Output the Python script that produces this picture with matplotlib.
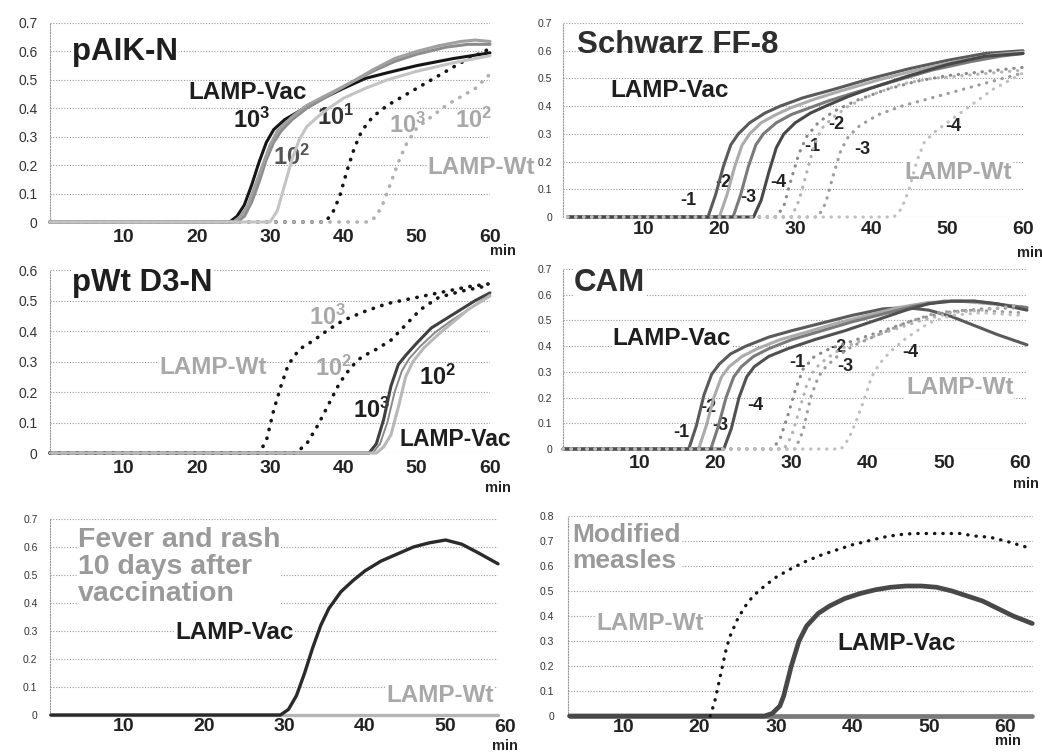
import matplotlib
matplotlib.use('Agg')
import numpy as np
import matplotlib.pyplot as plt

plt.rcParams['font.family'] = ['Liberation Sans', 'DejaVu Sans']
plt.rcParams['mathtext.fontset'] = 'custom'
plt.rcParams['mathtext.rm'] = 'Liberation Sans'
plt.rcParams['mathtext.bf'] = 'Liberation Sans:bold'

# -------------------------
# DATA (minutes vs. turbidity)
# -------------------------
# pAIK-N
aik_vac3_t = [0, 24.5, 25.5, 26.5, 27.5, 28.5, 29.5, 30.5, 32, 34, 36, 38, 40, 43, 46, 50, 55, 60]
aik_vac3_y = [0, 0, 0.02, 0.06, 0.13, 0.21, 0.28, 0.325, 0.36, 0.39, 0.42, 0.445, 0.47, 0.505, 0.525, 0.55, 0.575, 0.595]
aik_vacA_t = [0, 25, 26, 27, 28, 29, 30, 31, 33, 35, 38, 41, 44, 47, 50, 53, 56, 58, 60]
aik_vacA_y = [0, 0, 0.02, 0.06, 0.13, 0.2, 0.27, 0.32, 0.37, 0.41, 0.45, 0.49, 0.535, 0.575, 0.6, 0.62, 0.635, 0.64, 0.635]
aik_vac2_t = [0, 25.5, 26.5, 27.5, 28.5, 29.5, 30.5, 31.5, 33, 35, 38, 41, 44, 47, 50, 54, 57, 60]
aik_vac2_y = [0, 0, 0.02, 0.07, 0.14, 0.22, 0.28, 0.32, 0.36, 0.4, 0.445, 0.49, 0.53, 0.565, 0.59, 0.615, 0.625, 0.625]
aik_vac1_t = [0, 30, 31, 32, 33, 34, 35, 36.5, 38, 40, 43, 46, 50, 55, 60]
aik_vac1_y = [0, 0, 0.04, 0.13, 0.22, 0.29, 0.335, 0.37, 0.4, 0.435, 0.47, 0.5, 0.53, 0.56, 0.585]
aik_wt3_t = [0, 37.5, 38.5, 39.5, 40.5, 41.5, 42.5, 44, 46, 48, 50, 52, 54, 56, 58, 60]
aik_wt3_y = [0, 0, 0.03, 0.09, 0.18, 0.26, 0.32, 0.37, 0.41, 0.44, 0.47, 0.5, 0.53, 0.56, 0.585, 0.61]
aik_wt2_t = [0, 43.5, 44.5, 45.5, 46.5, 47.5, 48.5, 50, 52, 54, 56, 58, 60]
aik_wt2_y = [0, 0, 0.02, 0.07, 0.14, 0.21, 0.27, 0.33, 0.37, 0.41, 0.44, 0.47, 0.52]

# Schwarz FF-8 (dilutions -1 .. -4)
sch_vac_t = [
    [0, 18.5, 19.5, 20.5, 21.5, 22.5, 24, 26, 28, 31, 35, 40, 45, 50, 55, 60],
    [0, 20, 21, 22, 23, 24, 25.5, 27.5, 29.5, 32.5, 36, 41, 46, 51, 56, 60],
    [0, 21.8, 22.8, 23.8, 24.8, 25.8, 27.5, 29.5, 31.5, 34.5, 38, 43, 48, 53, 57, 60],
    [0, 24.5, 25.5, 26.5, 27.5, 28.5, 30, 32, 34, 37, 40, 45, 50, 55, 60],
]
sch_vac_y = [
    [0, 0, 0.08, 0.18, 0.26, 0.3, 0.34, 0.375, 0.4, 0.43, 0.46, 0.5, 0.535, 0.565, 0.59, 0.6],
    [0, 0, 0.08, 0.18, 0.26, 0.3, 0.34, 0.37, 0.395, 0.425, 0.455, 0.495, 0.53, 0.56, 0.585, 0.595],
    [0, 0, 0.08, 0.18, 0.26, 0.3, 0.34, 0.37, 0.39, 0.42, 0.45, 0.49, 0.53, 0.56, 0.58, 0.59],
    [0, 0, 0.06, 0.16, 0.25, 0.3, 0.34, 0.375, 0.4, 0.435, 0.465, 0.51, 0.55, 0.58, 0.59],
]
sch_wt_t = [
    [0, 27.5, 28.5, 29.5, 30.5, 31.5, 33, 35, 38, 42, 46, 50, 55, 60],
    [0, 29.5, 30.5, 31.5, 32.5, 33.5, 35, 37, 40, 44, 48, 52, 56, 60],
    [0, 33, 34, 35, 36, 37, 38.5, 41, 44, 48, 52, 56, 60],
    [0, 43, 44, 45, 46, 47, 48.5, 50, 52, 54, 56, 58, 60],
]
sch_wt_y = [
    [0, 0, 0.04, 0.14, 0.23, 0.29, 0.34, 0.38, 0.42, 0.46, 0.49, 0.51, 0.525, 0.54],
    [0, 0, 0.06, 0.16, 0.26, 0.32, 0.36, 0.4, 0.44, 0.48, 0.5, 0.51, 0.52, 0.53],
    [0, 0, 0.05, 0.15, 0.24, 0.29, 0.33, 0.37, 0.4, 0.43, 0.46, 0.49, 0.52],
    [0, 0, 0.03, 0.1, 0.2, 0.27, 0.31, 0.34, 0.38, 0.42, 0.46, 0.49, 0.52],
]

# pWt D3-N
dwt_wt3_t = [0, 28.5, 29.5, 30.5, 31.5, 32.5, 34, 36, 38, 40, 43, 46, 50, 54, 57, 60]
dwt_wt3_y = [0, 0, 0.04, 0.14, 0.22, 0.29, 0.34, 0.37, 0.405, 0.435, 0.465, 0.49, 0.51, 0.53, 0.545, 0.555]
dwt_wt2_t = [0, 33.5, 35, 36.5, 38, 39.5, 41, 42.5, 44.5, 46.5, 48.5, 50.5, 53, 56, 60]
dwt_wt2_y = [0, 0, 0.03, 0.09, 0.16, 0.23, 0.28, 0.315, 0.34, 0.37, 0.42, 0.47, 0.51, 0.53, 0.55]
dwt_vac3_t = [0, 43.5, 44.5, 45.5, 46.5, 47.5, 48.5, 50, 52, 54, 56, 58, 60]
dwt_vac3_y = [0, 0, 0.03, 0.11, 0.22, 0.29, 0.32, 0.36, 0.41, 0.44, 0.47, 0.5, 0.525]
dwt_vacB_t = [0, 44, 45, 46, 47, 48, 49, 50.5, 52.5, 54.5, 57, 60]
dwt_vacB_y = [0, 0, 0.03, 0.1, 0.2, 0.27, 0.31, 0.35, 0.395, 0.43, 0.47, 0.52]
dwt_vac2_t = [0, 44.5, 45.5, 46.5, 47.5, 48.5, 49.5, 51, 53, 55, 57, 60]
dwt_vac2_y = [0, 0, 0.02, 0.06, 0.15, 0.25, 0.3, 0.345, 0.39, 0.43, 0.47, 0.515]

# CAM (dilutions -1 .. -4)
cam_vac_t = [
    [0, 16.5, 17.5, 18.5, 19.5, 20.5, 22, 24, 27, 30, 34, 38, 42, 45, 48, 51, 54, 57, 60.9],
    [0, 17.8, 18.8, 19.8, 20.8, 21.8, 23.5, 25.5, 28.5, 32, 36, 40, 44, 48, 52, 56, 60.9],
    [0, 19.4, 20.4, 21.4, 22.4, 23.4, 25, 27, 30, 34, 38, 42, 46, 50, 54, 58, 60.9],
    [0, 21.1, 22.1, 23.1, 24.1, 25.1, 27, 29.5, 33, 37, 41, 45, 48, 51, 54, 57, 60.9],
]
cam_vac_y = [
    [0, 0, 0.09, 0.21, 0.29, 0.33, 0.37, 0.4, 0.435, 0.46, 0.49, 0.52, 0.545, 0.55, 0.54, 0.515, 0.48, 0.445, 0.405],
    [0, 0, 0.09, 0.2, 0.28, 0.32, 0.36, 0.39, 0.425, 0.455, 0.49, 0.52, 0.55, 0.57, 0.575, 0.565, 0.55],
    [0, 0, 0.09, 0.2, 0.28, 0.32, 0.36, 0.39, 0.425, 0.46, 0.495, 0.525, 0.555, 0.575, 0.575, 0.56, 0.55],
    [0, 0, 0.08, 0.2, 0.28, 0.32, 0.36, 0.39, 0.425, 0.46, 0.5, 0.54, 0.565, 0.575, 0.575, 0.565, 0.54],
]
cam_wt_t = [
    [0, 27.5, 28.5, 29.5, 30.5, 31.5, 33, 35, 38, 42, 46, 50, 55, 60],
    [0, 29, 30, 31, 32, 33, 34.5, 36.5, 39, 43, 47, 51, 55, 60],
    [0, 30.5, 31.5, 32.5, 33.5, 34.5, 36, 38, 41, 45, 49, 53, 57, 60],
    [0, 36.5, 37.5, 38.5, 39.5, 40.5, 41.5, 43, 45, 48, 51, 55, 60],
]
cam_wt_y = [
    [0, 0, 0.04, 0.13, 0.23, 0.31, 0.36, 0.39, 0.42, 0.46, 0.5, 0.53, 0.545, 0.55],
    [0, 0, 0.05, 0.15, 0.25, 0.31, 0.35, 0.39, 0.42, 0.46, 0.5, 0.53, 0.54, 0.56],
    [0, 0, 0.07, 0.2, 0.28, 0.32, 0.36, 0.4, 0.44, 0.49, 0.53, 0.54, 0.535, 0.53],
    [0, 0, 0.04, 0.11, 0.19, 0.28, 0.33, 0.38, 0.43, 0.49, 0.52, 0.53, 0.52],
]
dil_labels = ['-1', '-2', '-3', '-4']

# Fever and rash 10 days after vaccination
fev_vac_t = [1, 29.5, 30.5, 31.5, 32.5, 33.5, 34.5, 35.5, 37, 38.5, 40, 42, 44, 46, 48, 50, 52, 54, 56.5]
fev_vac_y = [0, 0, 0.02, 0.07, 0.15, 0.24, 0.32, 0.38, 0.44, 0.48, 0.515, 0.55, 0.575, 0.6, 0.615, 0.625, 0.61, 0.58, 0.54]
fev_wt_t = [1, 56.5]
fev_wt_y = [0, 0]

# Modified measles
mod_wt_t = [21.4, 22, 22.5, 23, 23.5, 24, 25, 26, 27, 28.5, 30, 32, 34, 36, 38, 40, 42, 44, 46, 48, 50,
            52, 54, 56, 58, 60, 62.8]
mod_wt_y = [0, 0.06, 0.13, 0.2, 0.27, 0.32, 0.39, 0.44, 0.48, 0.52, 0.555, 0.59, 0.62, 0.645, 0.665, 0.685,
            0.7, 0.715, 0.725, 0.73, 0.73, 0.73, 0.73, 0.72, 0.715, 0.7, 0.675]
mod_wt_base_t = [3, 63.5]
mod_wt_base_y = [0, 0]
mod_vac_t = [3, 28.5, 29.5, 30.5, 31, 31.5, 32, 33, 34, 35.5, 37, 39, 41, 43, 45, 47, 49, 51, 53, 55, 57,
             59, 61, 63.5]
mod_vac_y = [0, 0, 0.01, 0.04, 0.08, 0.14, 0.2, 0.3, 0.36, 0.41, 0.44, 0.47, 0.49, 0.505, 0.515, 0.52,
             0.52, 0.515, 0.5, 0.48, 0.46, 0.43, 0.4, 0.37]

# -------------------------
# FIGURE
# -------------------------
W, H = 1042, 754
fig = plt.figure(figsize=(W / 100, H / 100), dpi=100)
DOT = (0, (0.1, 2.4))


def panel(box, xlim, ylim, yfs, ypad, xpad, minpos):
    l, t, r, b = box
    ax = fig.add_axes([l / W, 1 - b / H, (r - l) / W, (b - t) / H])
    ax.set_xlim(*xlim)
    ax.set_ylim(*ylim)
    yt = np.round(np.arange(0, ylim[1] + 1e-9, 0.1), 1)
    ax.set_yticks(yt)
    ax.set_yticklabels(['0' if v == 0 else f'{v:.1f}' for v in yt], fontsize=yfs, color='#333333')
    xt = [v for v in [10, 20, 30, 40, 50, 60] if v <= xlim[1] + 1e-9]
    ax.set_xticks(xt)
    ax.set_xticklabels([str(v) for v in xt], fontsize=14, fontweight='bold', color='#222222')
    ax.tick_params(length=0)
    ax.tick_params(axis='y', pad=ypad)
    ax.tick_params(axis='x', pad=xpad)
    ax.grid(axis='y', color='#9a9a9a', lw=0.8, ls=(0, (1, 1.5)))
    ax.set_axisbelow(True)
    for s in ['top', 'right', 'bottom']:
        ax.spines[s].set_visible(False)
    ax.spines['left'].set_color('#9a9a9a')
    ax.spines['left'].set_linestyle((0, (1, 1.5)))
    ax.spines['left'].set_linewidth(0.8)
    if minpos is not None:
        mx, mdy = minpos
        ax.annotate('min', xy=(60, 0), xycoords=('data', 'axes fraction'), xytext=(mx, -mdy),
                    textcoords='offset points', ha='center', va='center', fontsize=10.5,
                    fontweight='bold', color='#222222', annotation_clip=False)
    return ax


def solid(ax, t, y, c, lw=2.2, z=3):
    ax.plot(t, y, color=c, lw=lw, solid_capstyle='round', clip_on=False, zorder=z)


def dotted(ax, t, y, c, lw=2.6, z=3):
    ax.plot(t, y, color=c, lw=lw, ls=DOT, dash_capstyle='round', clip_on=False, zorder=z)


def label(ax, x, y, s, c, fs, ha='center', va='center', box=False, **kw):
    bb = dict(fc='white', ec='none', pad=0.5) if box else None
    ax.text(x, y, s, color=c, fontsize=fs, fontweight='bold', ha=ha, va=va,
            bbox=bb, zorder=2.5, clip_on=False, **kw)


def power(n):
    return r'$\mathbf{10^{%d}}$' % n


DARK, LIGHT = '#1e1e1e', '#a8a8a8'

# --- pAIK-N ---
ax1 = panel((50, 23, 490, 222), (0, 60), (0, 0.7), 10, 9, 5, (9, 21))
solid(ax1, aik_vac3_t, aik_vac3_y, '#151515')
solid(ax1, aik_vac2_t, aik_vac2_y, '#8c8c8c')
solid(ax1, aik_vacA_t, aik_vacA_y, '#a0a0a0')
dotted(ax1, aik_wt3_t, aik_wt3_y, '#151515')
dotted(ax1, aik_wt2_t, aik_wt2_y, '#b0b0b0')
solid(ax1, aik_vac1_t, aik_vac1_y, '#c4c4c4', z=3.5)
label(ax1, 3.0, 0.598, 'pAIK-N', DARK, 22.5, ha='left', box=True)
label(ax1, 26.9, 0.457, 'LAMP-Vac', DARK, 17.5)
label(ax1, 27.5, 0.359, power(3), DARK, 17)
label(ax1, 39.0, 0.37, power(1), '#333333', 17)
label(ax1, 32.9, 0.229, power(2), '#555555', 17)
label(ax1, 48.8, 0.341, power(3), LIGHT, 17)
label(ax1, 57.7, 0.359, power(2), LIGHT, 17)
label(ax1, 51.5, 0.19, 'LAMP-Wt', LIGHT, 17.5, ha='left', box=True)

# --- Schwarz FF-8 ---
ax2 = panel((563, 23, 1023, 217), (-0.6, 60), (0, 0.7), 7.5, 8, 3, (5, 26))
for t, y, c in zip(sch_vac_t, sch_vac_y, ['#5a5a5a', '#ababab', '#7a7a7a', '#484848']):
    solid(ax2, t, y, c)
for t, y, c in zip(sch_wt_t, sch_wt_y, ['#8a8a8a', '#b4b4b4', '#9c9c9c', '#c0c0c0']):
    dotted(ax2, t, y, c, lw=2.3, z=3.5)
label(ax2, 1.3, 0.62, 'Schwarz FF-8', '#2e2e2e', 22.5, ha='left')
label(ax2, 13.5, 0.455, 'LAMP-Vac', DARK, 17.5)
for (x, y), s in zip([(15.9, 0.061), (20.5, 0.126), (23.8, 0.069), (27.7, 0.126)], dil_labels):
    label(ax2, x, y, s, '#222222', 13)
for (x, y), s in zip([(32.3, 0.253), (35.4, 0.332), (38.8, 0.242), (50.8, 0.325)], dil_labels):
    label(ax2, x, y, s, '#222222', 13)
label(ax2, 51.4, 0.162, 'LAMP-Wt', LIGHT, 17.5, box=True)

# --- pWt D3-N ---
ax3 = panel((50, 270, 490, 453), (0, 60), (0, 0.6), 10, 9, 5, (6, 25))
dotted(ax3, dwt_wt3_t, dwt_wt3_y, '#151515')
dotted(ax3, dwt_wt2_t, dwt_wt2_y, '#151515')
solid(ax3, dwt_vac3_t, dwt_vac3_y, '#404040')
solid(ax3, dwt_vacB_t, dwt_vacB_y, '#888888', lw=1.4)
solid(ax3, dwt_vac2_t, dwt_vac2_y, '#b8b8b8', z=3.5)
label(ax3, 3.0, 0.557, 'pWt D3-N', DARK, 22.5, ha='left', box=True)
label(ax3, 37.9, 0.446, power(3), LIGHT, 17)
label(ax3, 22.2, 0.279, 'LAMP-Wt', LIGHT, 17.5, box=True)
label(ax3, 38.6, 0.279, power(2), LIGHT, 17)
label(ax3, 52.8, 0.249, power(2), DARK, 17)
label(ax3, 43.9, 0.141, power(3), DARK, 17)
label(ax3, 47.7, 0.043, 'LAMP-Vac', DARK, 16.5, ha='left', box=True)

# --- CAM ---
ax4 = panel((563, 269, 1027, 449), (0, 60.9), (0, 0.7), 7.5, 8, 4, (4, 25))
for t, y, c in zip(cam_vac_t, cam_vac_y, ['#5a5a5a', '#ababab', '#7a7a7a', '#505050']):
    solid(ax4, t, y, c)
for t, y, c in zip(cam_wt_t, cam_wt_y, ['#8a8a8a', '#b4b4b4', '#9c9c9c', '#c0c0c0']):
    dotted(ax4, t, y, c, lw=2.3, z=3.5)
label(ax4, 1.4, 0.646, 'CAM', '#2e2e2e', 22.5, ha='left', box=True)
label(ax4, 14.3, 0.428, 'LAMP-Vac', DARK, 17.5, box=True)
for (x, y), s in zip([(15.5, 0.066), (19.1, 0.163), (20.7, 0.093), (25.3, 0.171)], dil_labels):
    label(ax4, x, y, s, '#222222', 13)
for (x, y), s in zip([(30.8, 0.338), (36.2, 0.393), (37.1, 0.319), (45.6, 0.377)], dil_labels):
    label(ax4, x, y, s, '#222222', 13)
label(ax4, 52.1, 0.241, 'LAMP-Wt', LIGHT, 17.5, box=True)

# --- Fever and rash ---
ax5 = panel((50, 519, 498, 715), (0.9, 56.5), (0, 0.7), 7.5, 9, 2, None)
solid(ax5, fev_wt_t, fev_wt_y, '#b4b4b4', lw=2.4)
solid(ax5, fev_vac_t, fev_vac_y, '#2a2a2a', lw=2.4)
label(ax5, 4.4, 0.672, 'Fever and rash\n10 days after\nvaccination', '#9a9a9a', 20.5, ha='left',
      va='top', box=True, linespacing=1.05)
label(ax5, 23.8, 0.293, 'LAMP-Vac', DARK, 17.5, box=True)
label(ax5, 49.3, 0.071, 'LAMP-Wt', LIGHT, 17.5, box=True)
ax5.annotate('60', xy=(57.4, 0), xycoords=('data', 'axes fraction'), xytext=(0, -3),
             textcoords='offset points', ha='center', va='top', fontsize=14, fontweight='bold',
             color='#222222', annotation_clip=False)
ax5.annotate('min', xy=(57.4, 0), xycoords=('data', 'axes fraction'), xytext=(0, -22),
             textcoords='offset points', ha='center', va='center', fontsize=10.5, fontweight='bold',
             color='#222222', annotation_clip=False)

# --- Modified measles ---
ax6 = panel((568, 516, 1033, 716), (2.8, 63.6), (0, 0.8), 7.5, 10, 2, (2, 18))
solid(ax6, mod_wt_base_t, mod_wt_base_y, '#7a7a7a', lw=3.4)
solid(ax6, mod_vac_t, mod_vac_y, '#484848', lw=3.4)
dotted(ax6, mod_wt_t, mod_wt_y, '#151515', lw=2.4)
label(ax6, 3.3, 0.77, 'Modified\nmeasles', '#9a9a9a', 19, ha='left', va='top', box=True,
      linespacing=1.08)
label(ax6, 13.5, 0.368, 'LAMP-Wt', LIGHT, 17.5, box=True)
label(ax6, 45.7, 0.288, 'LAMP-Vac', DARK, 17.5, box=True)

fig.savefig('out.png', dpi=100, facecolor='white')
